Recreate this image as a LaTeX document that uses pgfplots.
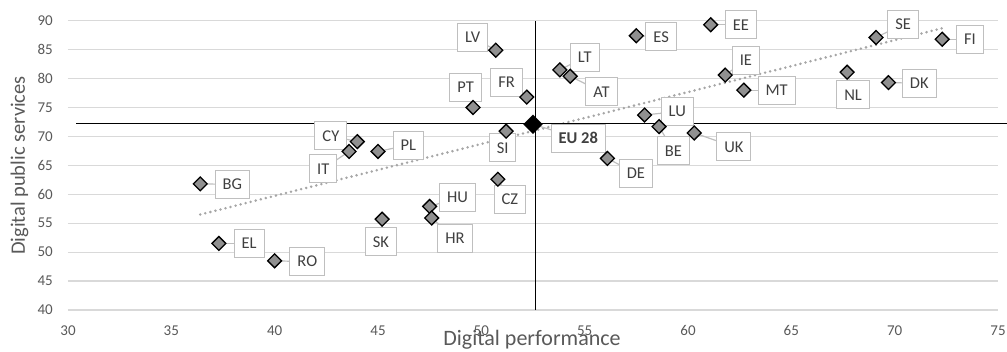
\documentclass[border=0pt]{standalone}
\usepackage{pgfplots}
\pgfplotsset{compat=1.18}
\usepackage{fontspec}
\setmainfont{Carlito}
\definecolor{tickc}{HTML}{595959}
\definecolor{labc}{HTML}{404040}
\definecolor{boxc}{HTML}{BFBFBF}
\definecolor{gridc}{HTML}{D9D9D9}
\definecolor{markc}{HTML}{909090}
\definecolor{trendc}{HTML}{A6A6A6}
\newcommand{\lab}[5]{%
  \draw[boxc, line width=1.2bp] (axis cs:#1,#2) -- (axis cs:#3,#4);}
\newcommand{\lbox}[3]{%
  \node[draw=boxc, fill=white, line width=1bp, text=labc, inner xsep=7.5bp, inner ysep=0pt,
        minimum height=28bp, font=\fontsize{16.5bp}{18bp}\selectfont] at (axis cs:#1,#2) {#3};}
\begin{document}
\begin{tikzpicture}
\useasboundingbox (-68bp,-42bp) rectangle (939bp,310bp);
\begin{axis}[
  scale only axis, width=930bp, height=289.3bp,
  xmin=30, xmax=75, ymin=40, ymax=90,
  xtick={30,35,...,75}, ytick={40,45,...,90},
  axis line style={draw=none}, tick style={draw=none},
  ymajorgrids, grid style={draw=gridc, line width=1.2bp},
  clip=false,
  /pgf/number format/assume math mode=true,
  tick label style={text=tickc, font=\fontsize{15bp}{16bp}\selectfont},
  xticklabel style={anchor=base, yshift=-25bp},
  yticklabel style={anchor=east, inner sep=0pt, xshift=-15bp},
]
% trend line
\addplot[trendc, line width=2.8bp, line cap=round, dash pattern=on 0pt off 5.2bp] coordinates {(36.4,56.5) (72.3,88.7)};
% EU 28 reference lines
\addplot[black, line width=1bp] coordinates {(30.4,72.3) (75.5,72.3)};
\addplot[black, line width=1bp] coordinates {(52.6,40) (52.6,90)};
% callouts
\lab{36.4}{61.8}{37.95}{61.7}{}
\lab{37.3}{51.5}{38.76}{51.5}{}
\lab{40.0}{48.5}{41.58}{48.35}{}
\lab{44.0}{69.1}{42.72}{70.1}{}
\lab{43.6}{67.4}{42.35}{64.4}{}
\lab{45.0}{67.4}{46.47}{68.5}{}
\lab{50.7}{84.9}{49.58}{87.1}{}
\lab{49.6}{75.0}{49.24}{78.5}{}
\lab{52.2}{76.8}{51.22}{79.3}{}
\lab{53.8}{81.5}{55.0}{83.7}{}
\lab{54.3}{80.4}{55.82}{77.7}{}
\lab{51.2}{70.9}{51.03}{68.0}{}
\lab{52.5}{72.1}{54.69}{69.7}{}
\lab{56.1}{66.2}{57.48}{63.6}{}
\lab{50.8}{62.6}{51.38}{59.1}{}
\lab{47.5}{57.9}{48.85}{59.4}{}
\lab{47.6}{55.9}{48.72}{52.4}{}
\lab{45.2}{55.7}{45.14}{51.8}{}
\lab{57.5}{87.4}{58.7}{87.2}{}
\lab{61.1}{89.3}{62.56}{89.3}{}
\lab{69.1}{87.1}{70.41}{89.4}{}
\lab{72.3}{86.8}{73.64}{86.8}{}
\lab{61.8}{80.6}{62.8}{83.2}{}
\lab{62.7}{78.0}{64.29}{78.0}{}
\lab{67.7}{81.1}{67.99}{77.2}{}
\lab{69.7}{79.3}{71.19}{79.2}{}
\lab{57.9}{73.7}{59.48}{74.3}{}
\lab{58.6}{71.7}{59.29}{67.5}{}
\lab{60.3}{70.6}{62.22}{68.2}{}
% countries
\addplot[only marks, mark=square*, mark size=4.9bp, mark options={rotate=45, fill=markc, draw=black, line width=1.3bp}] coordinates {
(36.4,61.8) (37.3,51.5) (40.0,48.5) (44.0,69.1) (43.6,67.4) (45.0,67.4)
(50.7,84.9) (49.6,75.0) (52.2,76.8) (53.8,81.5) (54.3,80.4) (51.2,70.9)
(56.1,66.2) (50.8,62.6) (47.5,57.9) (47.6,55.9) (45.2,55.7) (57.5,87.4)
(61.1,89.3) (69.1,87.1) (72.3,86.8) (61.8,80.6) (62.7,78.0) (67.7,81.1)
(69.7,79.3) (57.9,73.7) (58.6,71.7) (60.3,70.6)};
% EU 28
\addplot[only marks, mark=square*, mark size=6.6bp, mark options={rotate=45, fill=black, draw=black}] coordinates {(52.5,72.1)};
% labels
\lbox{37.95}{61.7}{BG}
\lbox{38.76}{51.5}{EL}
\lbox{41.58}{48.35}{RO}
\lbox{42.72}{70.1}{CY}
\lbox{42.35}{64.4}{IT}
\lbox{46.47}{68.5}{PL}
\lbox{49.58}{87.1}{LV}
\lbox{49.24}{78.5}{PT}
\lbox{51.22}{79.3}{FR}
\lbox{55.0}{83.7}{LT}
\lbox{55.82}{77.7}{AT}
\lbox{51.03}{68.0}{SI}
\lbox{54.69}{69.7}{\bfseries EU 28}
\lbox{57.48}{63.6}{DE}
\lbox{51.38}{59.1}{CZ}
\lbox{48.85}{59.4}{HU}
\lbox{48.72}{52.4}{HR}
\lbox{45.14}{51.8}{SK}
\lbox{58.7}{87.2}{ES}
\lbox{62.56}{89.3}{EE}
\lbox{70.41}{89.4}{SE}
\lbox{73.64}{86.8}{FI}
\lbox{62.8}{83.2}{IE}
\lbox{64.29}{78.0}{MT}
\lbox{67.99}{77.2}{NL}
\lbox{71.19}{79.2}{DK}
\lbox{59.48}{74.3}{LU}
\lbox{59.29}{67.5}{BE}
\lbox{62.22}{68.2}{UK}
\end{axis}
\node[anchor=base, text=tickc, font=\fontsize{22bp}{24bp}\selectfont] at (464bp,-35bp) {Digital performance};
\node[anchor=base, rotate=90, text=tickc, font=\fontsize{20.5bp}{22bp}\selectfont] at (-43bp,144.5bp) {Digital public services};
\end{tikzpicture}
\end{document}
